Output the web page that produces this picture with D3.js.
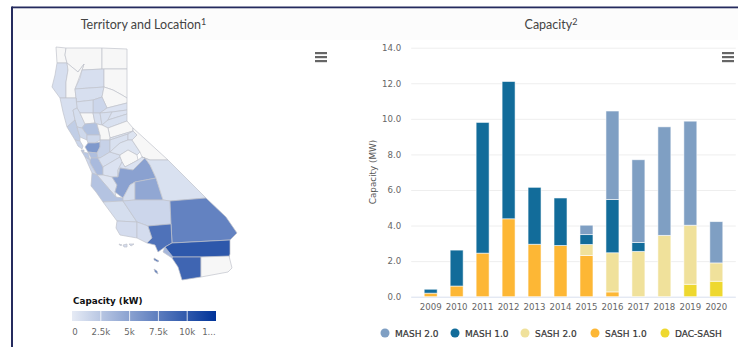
<!DOCTYPE html>
<html>
<head>
<meta charset="utf-8">
<script src="https://cdn.jsdelivr.net/npm/d3@7"></script>
<style>
  body { margin: 0; background: #fff; }
  svg { display: block; }
  text { font-family: "DejaVu Sans", sans-serif; }
  .panel-title { font-family: "Lato", sans-serif; font-size: 12.5px; fill: #444; }
</style>
</head>
<body>
<svg width="738" height="347" viewBox="0 0 738 347"></svg>
<script>
//bar chart data, one list per series, bottom of the stack first
var years = ["2009","2010","2011","2012","2013","2014","2015","2016","2017","2018","2019","2020"];
var dacSash = [0,0,0,0,0,0,0,0,0,0,0.7,0.87];
var sash1 = [0.2,0.6,2.45,4.38,2.95,2.88,2.32,0.27,0,0,0,0];
var sash2 = [0,0,0,0,0,0,0.62,2.2,2.55,3.45,3.32,1.03];
var mash1 = [0.22,2.02,7.35,7.72,3.2,2.67,0.55,3.0,0.5,0,0,0];
var mash2 = [0,0,0,0,0,0,0.53,4.97,4.65,6.1,5.85,2.32];
var seriesNames = ["DAC-SASH","SASH 1.0","SASH 2.0","MASH 1.0","MASH 2.0"];
var seriesColors = ["#eed82f","#fdb735","#f0e19b","#126c9a","#7f9fc3"];
var legendOrder = ["MASH 2.0","MASH 1.0","SASH 2.0","SASH 1.0","DAC-SASH"];
var capacityTicks = [0,2,4,6,8,10,12,14];

//county capacity in kW, null where there is no installed capacity
var countyNames = ["Del Norte","Siskiyou","Modoc","Humboldt","Trinity","Shasta","Lassen","Tehama","Plumas","Butte","Glenn","Mendocino","Lake","Colusa","Sutter","Sierra","Yuba","Nevada","Placer","El Dorado","Yolo","Sacramento","Sonoma","Napa","Solano","Marin","Contra Costa","Alameda","San Francisco","San Mateo","Santa Clara","Santa Cruz","San Joaquin","Amador","Calaveras","Alpine","Stanislaus","Tuolumne","Mono","Mariposa","Merced","Madera","San Benito","Monterey","Fresno","Kings","Tulare","Inyo","San Luis Obispo","Kern","San Bernardino","Santa Barbara","Ventura","Los Angeles","Orange","Riverside","San Diego","Imperial"];
var countyKw = [null,null,null,800,null,800,null,800,null,1400,800,800,900,null,800,600,800,600,700,null,2800,null,2000,1300,1300,1500,5600,3000,2500,2400,3300,1400,1700,500,700,500,800,500,null,null,600,600,400,2700,5000,900,4600,700,900,1400,7100,1000,1000,8200,3500,10000,9100,null];

//county outlines in map units, same order as countyNames
var countyShapes = [
  [[56,47],[66,48],[65,55],[67,63],[57,63]],
  [[66,48],[102,48],[102,69],[82,70],[84,64],[78,72],[67,63],[65,55]],
  [[102,48],[127,49],[127,69],[102,69]],
  [[57,63],[67,63],[68,70],[66,82],[66,98],[60,98],[52,87],[55,75]],
  [[67,63],[78,72],[84,64],[82,70],[75,89],[76,98],[66,98],[66,82],[68,70]],
  [[82,70],[104,69],[104,87],[75,89],[80,78]],
  [[104,69],[127,69],[127,98],[122,95],[113,90],[104,87]],
  [[75,89],[104,87],[102,97],[93,100],[76,102],[76,98]],
  [[104,87],[113,90],[122,95],[127,98],[127,103],[107,108],[102,97]],
  [[93,100],[102,97],[107,108],[100,113],[93,113]],
  [[76,102],[93,100],[93,113],[80,113],[77,108],[76,98]],
  [[60,98],[76,98],[77,108],[73,110],[75,120],[67,127],[63,112]],
  [[77,108],[80,113],[85,124],[82,128],[77,127],[75,120],[73,110]],
  [[80,113],[93,113],[95,123],[85,124]],
  [[93,113],[100,113],[102,125],[97,124],[95,123]],
  [[107,108],[127,103],[127,110],[112,112],[100,113]],
  [[100,113],[112,112],[108,120],[102,125]],
  [[112,112],[127,110],[127,114],[108,120]],
  [[102,125],[108,120],[127,114],[127,121],[108,128]],
  [[108,128],[127,121],[133,128],[133,131],[110,138]],
  [[85,124],[95,123],[97,124],[100,135],[87,135],[82,128]],
  [[97,124],[102,125],[108,128],[110,138],[110,140],[100,140],[100,135]],
  [[67,127],[75,120],[77,127],[80,137],[80,141],[75,140]],
  [[82,128],[87,135],[87,140],[80,137],[77,127]],
  [[87,135],[100,135],[100,140],[95,143],[88,143],[87,140]],
  [[75,140],[80,141],[83,146],[82,149],[78,146]],
  [[85,147],[88,143],[95,143],[100,142],[100,147],[97,153],[88,152]],
  [[88,152],[97,153],[98,158],[91,158]],
  [[81,150],[84,150],[84,152],[82,152]],
  [[82,152],[88,153],[90,160],[85,157]],
  [[91,158],[98,158],[103,167],[103,175],[97,175],[90,163],[90,160]],
  [[85,157],[90,160],[90,163],[97,175],[92,173]],
  [[100,142],[100,140],[110,140],[110,152],[100,158],[98,158],[97,153],[100,147]],
  [[110,138],[133,131],[128,134],[110,140]],
  [[110,140],[128,134],[128,140],[120,143],[110,152]],
  [[128,134],[133,131],[137,135],[132,140],[128,140]],
  [[98,158],[100,158],[110,152],[120,155],[120,157],[103,167]],
  [[110,152],[120,143],[128,140],[132,140],[140,152],[137,155],[128,150],[120,155]],
  [[133,128],[168,160],[150,160],[142,157],[140,152],[132,140],[137,135],[133,131]],
  [[120,155],[128,150],[137,155],[138,160],[125,167],[122,162],[120,157]],
  [[103,167],[120,157],[122,162],[118,170],[118,177],[112,177],[103,175]],
  [[118,170],[122,162],[125,167],[138,160],[142,157],[145,158],[133,170],[120,168],[118,177]],
  [[97,175],[103,175],[112,177],[117,185],[115,192],[116,197]],
  [[92,173],[97,175],[116,197],[123,198],[123,201],[103,202],[96,192],[91,186]],
  [[112,177],[118,177],[120,168],[133,170],[145,158],[150,165],[156,178],[135,182],[130,185],[123,198],[115,192],[117,185]],
  [[130,185],[135,182],[135,200],[123,201],[123,198]],
  [[156,178],[163,200],[135,200],[135,182]],
  [[142,157],[150,160],[168,160],[206,198],[170,201],[163,200],[156,178],[150,165],[145,158]],
  [[103,202],[123,201],[137,222],[117,221]],
  [[123,201],[135,200],[163,200],[170,201],[171,224],[148,226],[137,222]],
  [[170,201],[206,198],[226,217],[237,233],[230,240],[172,243],[171,224]],
  [[117,221],[137,222],[137,238],[120,235],[116,228]],
  [[137,222],[148,226],[152,238],[147,243],[137,238]],
  [[148,226],[171,224],[172,243],[165,247],[158,252],[155,245],[147,243],[152,238]],
  [[165,247],[175,257],[172,258],[163,252]],
  [[172,243],[230,240],[230,254],[229,257],[173,257],[165,247]],
  [[173,257],[201,257],[201,277],[182,280],[178,267],[172,258]],
  [[201,257],[229,256],[232,268],[228,272],[201,277]]
];
//channel islands, drawn with the county that owns each one
var islandOwners = ["Santa Barbara","Santa Barbara","Ventura","Los Angeles","Los Angeles"];
var islandShapes = [
  [[119,244],[122,245],[120,245.5]],
  [[123,245],[127,244],[127,247],[124,247]],
  [[129,244],[134,244],[131,246]],
  [[154,258],[159,261],[158,262],[154,260]],
  [[154,269],[157,271],[158,274],[155,272]]
];
var legendKw = [0,2500,5000,7500,10000,12500];
var legendLabels = ["0","2.5k","5k","7.5k","10k","1..."];

var svg = d3.select("svg");

//page frame and title bands
svg.append("rect").attr("x", 13).attr("y", 9).attr("width", 725).attr("height", 31).attr("fill", "#fcfcfc");
svg.append("rect").attr("x", 12).attr("y", 6.5).attr("width", 726).attr("height", 1.8).attr("fill", "#252b5e");
svg.append("rect").attr("x", 11).attr("y", 6.5).attr("width", 2).attr("height", 341).attr("fill", "#252b5e");

function panelTitle(x, label, note) {
  var t = svg.append("text").attr("class", "panel-title").attr("x", x).attr("y", 29).attr("text-anchor", "middle");
  t.append("tspan").text(label);
  t.append("tspan").attr("font-size", "9px").attr("dy", -4).text(note);
}
panelTitle(143.5, "Territory and Location", "1");
panelTitle(551, "Capacity", "2");

function menuIcon(x, y) {
  svg.append("g").selectAll("rect").data([0, 4, 8]).enter().append("rect")
    .attr("x", x).attr("y", function(d){ return y + d; })
    .attr("width", 12).attr("height", 2.2).attr("fill", "#666");
}
menuIcon(315, 52);
menuIcon(722, 52);

//map
var mapColor = d3.scaleLinear().domain([0, 12500]).range(["#e6ebf5", "#003399"]);
var geoPathGenerator = d3.geoPath().projection(d3.geoIdentity());

function countyFill(kw) {
  return kw === null ? "#f7f7f7" : mapColor(kw);
}

var mapFeatures = countyShapes.map(function(ring, i){
  return {type: "Feature", properties: {kw: countyKw[i]}, geometry: {type: "Polygon", coordinates: [ring.concat([ring[0]])]}};
});
islandShapes.forEach(function(ring, i){
  mapFeatures.push({type: "Feature", properties: {kw: countyKw[countyNames.indexOf(islandOwners[i])]}, geometry: {type: "Polygon", coordinates: [ring.concat([ring[0]])]}});
});

svg.append("g").selectAll("path")
  .data(mapFeatures)
  .enter()
  .append("path")
  .attr("d", geoPathGenerator)
  .attr("fill", function(d){ return countyFill(d.properties.kw); })
  .attr("stroke", "#c0c3cc")
  .attr("stroke-width", 0.7)
  .attr("stroke-linejoin", "round");

//map colour legend
var legendX = d3.scaleLinear().domain([0, 12500]).range([72, 216]);
var gradient = svg.append("defs").append("linearGradient").attr("id", "capacityRamp");
gradient.append("stop").attr("offset", "0%").attr("stop-color", mapColor(0));
gradient.append("stop").attr("offset", "100%").attr("stop-color", mapColor(12500));

svg.append("text").attr("x", 73).attr("y", 304).attr("font-size", "8.8px").attr("font-weight", "bold").attr("fill", "#111").text("Capacity (kW)");
svg.append("rect").attr("x", legendX(0)).attr("y", 311).attr("width", legendX(12500) - legendX(0)).attr("height", 10).attr("fill", "url(#capacityRamp)");
svg.append("g").selectAll("line").data(legendKw.slice(1, 5)).enter().append("line")
  .attr("x1", legendX).attr("x2", legendX).attr("y1", 311).attr("y2", 321)
  .attr("stroke", "#fff").attr("stroke-width", 0.8);
svg.append("g").selectAll("text").data(legendKw).enter().append("text")
  .attr("x", function(d, i){ return i === 0 ? legendX(d) + 3 : i === 5 ? legendX(d) - 7 : legendX(d); })
  .attr("y", 335)
  .attr("text-anchor", "middle")
  .attr("font-size", "8.6px")
  .attr("fill", "#666")
  .text(function(d, i){ return legendLabels[i]; });

//stacked bars
var x = d3.scaleBand().domain(years).range([411.2, 735.8]).padding(0.5);
var y = d3.scaleLinear().domain([0, 14]).range([296.7, 47.7]);

var rows = years.map(function(year, i){
  return {year: year, "DAC-SASH": dacSash[i], "SASH 1.0": sash1[i], "SASH 2.0": sash2[i], "MASH 1.0": mash1[i], "MASH 2.0": mash2[i]};
});
var stacked = d3.stack().keys(seriesNames)(rows);
var barColor = d3.scaleOrdinal().domain(seriesNames).range(seriesColors);

var yAxis = d3.axisLeft(y).tickValues(capacityTicks).tickFormat(d3.format(".1f")).tickSize(-324.6).tickPadding(10);
var yAxisGroup = svg.append("g").attr("transform", "translate(411.2,0)").call(yAxis);
yAxisGroup.select(".domain").remove();
yAxisGroup.selectAll("line").attr("stroke", function(d){ return d === 0 ? "#d8dfee" : "#eeeeee"; });
yAxisGroup.selectAll("text").attr("font-size", "8.6px").attr("font-family", "DejaVu Sans").attr("fill", "#666");

var xAxis = d3.axisBottom(x).tickSize(0).tickPadding(7);
var xAxisGroup = svg.append("g").attr("transform", "translate(0,296.7)").call(xAxis);
xAxisGroup.select(".domain").remove();
xAxisGroup.selectAll("text").attr("font-size", "8.6px").attr("font-family", "DejaVu Sans").attr("fill", "#666");

svg.append("text")
  .attr("transform", "translate(376,172) rotate(-90)")
  .attr("text-anchor", "middle")
  .attr("font-size", "8.8px")
  .attr("fill", "#555")
  .text("Capacity (MW)");

svg.append("g").selectAll("g")
  .data(stacked)
  .enter()
  .append("g")
  .attr("fill", function(d){ return barColor(d.key); })
  .selectAll("rect")
  .data(function(d){ return d; })
  .enter()
  .append("rect")
  .attr("x", function(d){ return x(d.data.year); })
  .attr("y", function(d){ return y(d[1]); })
  .attr("width", x.bandwidth())
  .attr("height", function(d){ return y(d[0]) - y(d[1]); })
  .attr("stroke", "#fff")
  .attr("stroke-opacity", 0.7)
  .attr("stroke-width", function(d){ return d[1] > d[0] ? 0.8 : 0; });

//series legend
var legendStarts = d3.scalePoint().domain(legendOrder).range([385, 665]);
var legendItems = svg.append("g").selectAll("g")
  .data(legendOrder)
  .enter()
  .append("g")
  .attr("transform", function(d){ return "translate(" + legendStarts(d) + ",333)"; });
legendItems.append("circle").attr("r", 4.5).attr("fill", function(d){ return barColor(d); });
legendItems.append("text")
  .attr("x", 10)
  .attr("y", 3.5)
  .attr("font-size", "9px")
  .attr("fill", "#333")
  .attr("stroke", "#333")
  .attr("stroke-width", 0.2)
  .text(function(d){ return d; });
</script>
</body>
</html>
